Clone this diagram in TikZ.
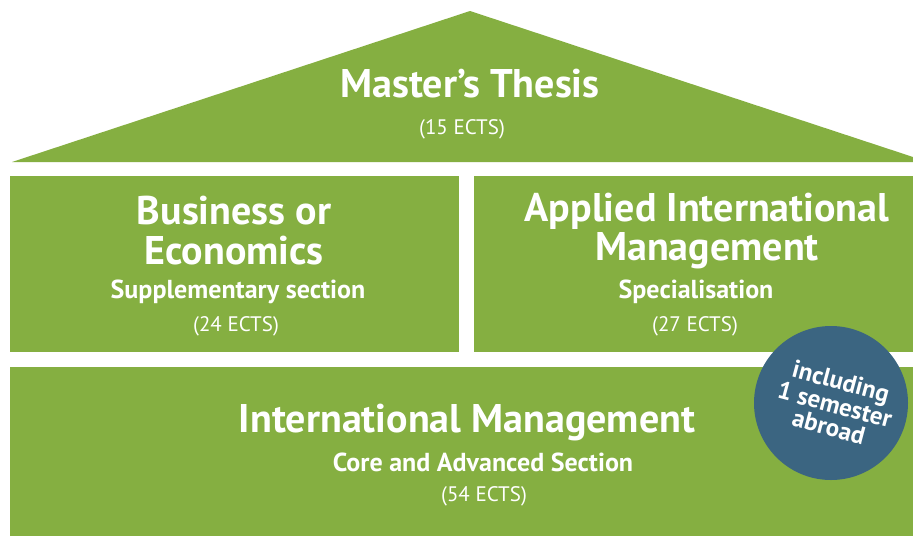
\documentclass[tikz,border=0pt]{standalone}
\usepackage{fontspec}
\setmainfont{PT Sans}
\definecolor{hgreen}{HTML}{85AF41}
\definecolor{hblue}{HTML}{3B6581}
\begin{document}
\begin{tikzpicture}[x=1pt,y=-1pt,
  blk/.style={fill=hgreen,draw=none},
  big/.style={text=white,font=\fontsize{40}{42}\selectfont\bfseries,inner sep=0pt,anchor=center},
  mid/.style={text=white,font=\fontsize{26}{28}\selectfont\bfseries,inner sep=0pt,anchor=center},
  small/.style={text=white,font=\fontsize{21}{23}\selectfont,inner sep=0pt,anchor=center}]
\useasboundingbox (0,0) rectangle (913,536);
\fill[white] (0,0) rectangle (913,536);
% roof
\fill[blk] (12,162) -- (470,11) -- (913,157) -- (913,162) -- cycle;
% boxes
\fill[blk] (10,176) rectangle (459,352);
\fill[blk] (474,176) rectangle (913,352);
\fill[blk] (10,367) rectangle (913,536);
% texts
\node[big] (mt) at (470,84) {Master’s Thesis};
\node[small] (mte) at (462,129) {(15 ECTS)};
\node[big] (b1) at (234,211) {Business or};
\node[big] (b2) at (234,251) {Economics};
\node[mid] (b3) at (238,292) {Supplementary section};
\node[small] (b4) at (236,326) {(24 ECTS)};
\node[big] (a1) at (707,211) {Applied International};
\node[big] (a2) at (707,251) {Management};
\node[mid] (a3) at (696,292) {Specialisation};
\node[small] (a4) at (695,326) {(27 ECTS)};
\node[big] (i1) at (467,423) {International Management};
\node[mid] (i2) at (483,462) {Core and Advanced Section};
\node[small] (i3) at (484,496) {(54 ECTS)};
% circle
\fill[hblue] (831,403) circle (77);
\node[text=white,font=\fontsize{25}{23}\selectfont\bfseries,align=center,rotate=-15,inner sep=0pt] (ab) at (835,404) {including\\1 semester\\abroad};
\end{tikzpicture}
\end{document}
